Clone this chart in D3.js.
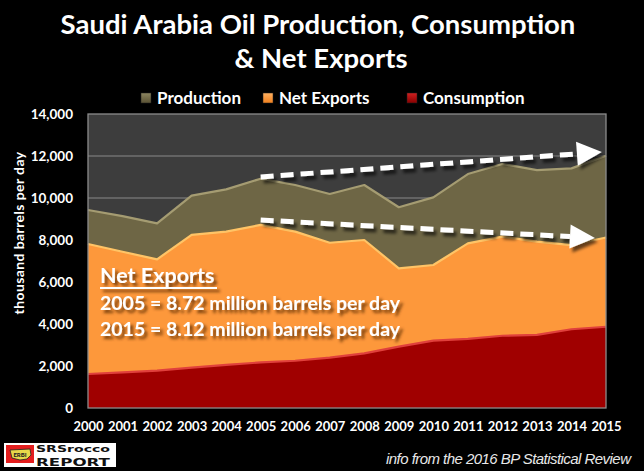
<!DOCTYPE html>
<html><head><meta charset="utf-8">
<script src="https://cdn.jsdelivr.net/npm/d3@7/dist/d3.min.js"></script>
<style>
html,body{margin:0;padding:0;background:#000;}
svg{display:block;}
</style></head>
<body>
<svg id="c" width="644" height="471"></svg>
<script>
// ---- data (thousand barrels per day) ----
const years = [2000,2001,2002,2003,2004,2005,2006,2007,2008,2009,2010,2011,2012,2013,2014,2015];
const production = [9430,9140,8790,10110,10410,10920,10620,10190,10620,9560,10030,11140,11620,11330,11410,12010];
const netExports = [7810,7440,7080,8240,8400,8720,8400,7870,8000,6650,6810,7840,8160,7920,7760,8120];
const consumption = [1620,1700,1780,1920,2050,2170,2250,2400,2600,2920,3210,3290,3440,3480,3750,3870];
const yTicks = [0,2000,4000,6000,8000,10000,12000,14000];
const legendItems = ["Production","Net Exports","Consumption"];
// trend arrows [year, value] start -> tip
const trendArrows = [
  [[2005, 11000],[2014.88, 12190]],
  [[2005, 8950],[2014.68, 8100]]
];

const svg = d3.select("#c");
const F = "Lato, 'Open Sans', sans-serif";
const L = 88, R = 606, T = 114, B = 408;

const x = d3.scaleLinear().domain([2000,2015]).range([L,R]);
const y = d3.scaleLinear().domain([0,14000]).range([B,T]);

const defs = svg.append("defs");
const sh = defs.append("filter").attr("id","tsh").attr("x","-10%").attr("y","-30%").attr("width","130%").attr("height","180%");
sh.append("feDropShadow").attr("dx",3).attr("dy",3).attr("stdDeviation",1.6).attr("flood-color","#5a2a05").attr("flood-opacity",0.85);
const ash = defs.append("filter").attr("id","ash").attr("x","-10%").attr("y","-50%").attr("width","130%").attr("height","250%");
ash.append("feDropShadow").attr("dx",3).attr("dy",4).attr("stdDeviation",1.8).attr("flood-color","#000").attr("flood-opacity",0.6);
const esh = defs.append("filter").attr("id","esh").attr("x","-5%").attr("y","-20%").attr("width","110%").attr("height","140%");
esh.append("feDropShadow").attr("dx",0).attr("dy",2).attr("stdDeviation",1.5).attr("flood-color","#000").attr("flood-opacity",0.45);

// legend gradients
const legCols = [["#8c8560","#5a5234"],["#ffb060","#f0801e"],["#d02020","#880000"]];
legCols.forEach((c,i)=>{
  const gr = defs.append("linearGradient").attr("id","lg"+i).attr("x1",0).attr("y1",0).attr("x2",0).attr("y2",1);
  gr.append("stop").attr("offset","0%").attr("stop-color",c[0]);
  gr.append("stop").attr("offset","100%").attr("stop-color",c[1]);
});

// title
svg.append("text").attr("x",318).attr("y",34).attr("text-anchor","middle")
  .attr("fill","#fff").attr("font-family",F).attr("font-weight",700).attr("font-size",27.5)
  .text("Saudi Arabia Oil Production, Consumption");
svg.append("text").attr("x",321).attr("y",68).attr("text-anchor","middle")
  .attr("fill","#fff").attr("font-family",F).attr("font-weight",700).attr("font-size",27.5)
  .text("& Net Exports");

// legend
const legX = [141,263,407];
legendItems.forEach((name,i)=>{
  const g = svg.append("g").attr("transform",`translate(${legX[i]},93)`);
  g.append("rect").attr("width",10).attr("height",10).attr("fill",`url(#lg${i})`).attr("stroke","#222").attr("stroke-width",0.5);
  g.append("text").attr("x",16).attr("y",10.5).attr("fill","#fff").attr("font-family",F)
    .attr("font-weight",700).attr("font-size",17).text(name);
});

// plot background
svg.append("rect").attr("x",L).attr("y",T).attr("width",R-L).attr("height",B-T).attr("fill","#3d3d3d");

// gridlines
svg.append("g").selectAll("line").data(yTicks.filter(d=>d>0 && d<14000)).join("line")
  .attr("x1",L).attr("x2",R).attr("y1",d=>y(d)).attr("y2",d=>y(d))
  .attr("stroke","#8a8a8a").attr("stroke-width",1);

// areas
const idx = d3.range(years.length);
function area(vals){ return d3.area().x(i=>x(years[i])).y0(B).y1(i=>y(vals[i]))(idx); }
function line(vals){ return d3.line().x(i=>x(years[i])).y(i=>y(vals[i]))(idx); }

const series = [
  {vals:production, fill:"#6e6644", edge:"#a59c72"},
  {vals:netExports, fill:"#fd983a", edge:"#ffc466"},
  {vals:consumption, fill:"#a00606", edge:"#e0403c"}
];
series.forEach(s=>{
  svg.append("path").attr("d",area(s.vals)).attr("fill",s.fill).attr("filter","url(#esh)");
  svg.append("path").attr("d",line(s.vals)).attr("fill","none").attr("stroke",s.edge).attr("stroke-width",2.2).attr("stroke-linejoin","round");
});

// plot border
svg.append("rect").attr("x",L).attr("y",T).attr("width",R-L).attr("height",B-T)
  .attr("fill","none").attr("stroke","#8c8c8c").attr("stroke-width",1.3);

// y axis
const yAxis = d3.axisLeft(y).tickValues(yTicks).tickFormat(d3.format(",")).tickSize(0).tickPadding(15);
const gy = svg.append("g").attr("transform",`translate(${L},0)`).call(yAxis);
gy.select(".domain").remove();
gy.selectAll("text").attr("fill","#fff").attr("font-family",F).attr("font-weight",700).attr("font-size",13.5);

svg.append("text").attr("transform","translate(24,233) rotate(-90)").attr("text-anchor","middle")
  .attr("fill","#fff").attr("font-family",F).attr("font-weight",700).attr("font-size",14)
  .attr("letter-spacing",0.4)
  .text("thousand barrels per day");

// x axis
const xAxis = d3.axisBottom(x).tickValues(years).tickFormat(d3.format("d")).tickSize(0).tickPadding(14);
const gx = svg.append("g").attr("transform",`translate(0,${B})`).call(xAxis);
gx.select(".domain").remove();
gx.selectAll("text").attr("fill","#fff").attr("font-family",F).attr("font-weight",700).attr("font-size",13);

// trend arrows
trendArrows.forEach(([a,b])=>{
  const x1=x(a[0]), y1=y(a[1]), x2=x(b[0]), y2=y(b[1]);
  const ang = Math.atan2(y2-y1,x2-x1);
  const headL = 25, headW = 12;
  const bx = x2 - headL*Math.cos(ang), by = y2 - headL*Math.sin(ang);
  const g = svg.append("g").attr("filter","url(#ash)");
  g.append("line").attr("x1",x1).attr("y1",y1).attr("x2",bx).attr("y2",by)
    .attr("stroke","#fff").attr("stroke-width",5).attr("stroke-dasharray","13,7");
  const px = -Math.sin(ang), py = Math.cos(ang);
  g.append("path").attr("d",`M${x2},${y2}L${bx+px*headW},${by+py*headW}L${bx-px*headW},${by-py*headW}Z`).attr("fill","#fff");
});

// annotation
const ann = svg.append("g").attr("filter","url(#tsh)").attr("fill","#fff").attr("font-family",F).attr("font-weight",700);
ann.append("text").attr("x",100).attr("y",283).attr("font-size",21.5).text("Net Exports");
ann.append("rect").attr("x",100).attr("y",287).attr("width",117).attr("height",2);
ann.append("text").attr("x",100).attr("y",310).attr("font-size",19.5).text("2005 = 8.72 million barrels per day");
ann.append("text").attr("x",100).attr("y",336).attr("font-size",19.5).text("2015 = 8.12 million barrels per day");

// logo
const lg = svg.append("g");
lg.append("rect").attr("x",4).attr("y",443).attr("width",112).attr("height",24).attr("fill","#fff");
lg.append("rect").attr("x",6).attr("y",445).attr("width",28).attr("height",18).attr("fill","#e41e1e");
lg.append("path").attr("d","M10,450 L30,449 L31,455 L27,459 L20,460 L12,458 Z").attr("fill","#e8d84a").attr("stroke","#222").attr("stroke-width",0.8);
lg.append("text").attr("x",20).attr("y",457).attr("text-anchor","middle").attr("font-family",F).attr("font-weight",900).attr("font-size",6).attr("fill","#222").text("ERBI");
lg.append("text").attr("x",36).attr("y",452).attr("font-family","'DejaVu Sans', sans-serif").attr("font-weight",700).attr("font-size",9.5).attr("fill","#111").attr("textLength",74).attr("lengthAdjust","spacingAndGlyphs").text("SRSrocco");
lg.append("text").attr("x",36).attr("y",466).attr("font-family","'DejaVu Sans', sans-serif").attr("font-weight",700).attr("font-size",11).attr("fill","#111").attr("textLength",74).attr("lengthAdjust","spacingAndGlyphs").text("REPORT");

// source
svg.append("text").attr("x",631).attr("y",464).attr("text-anchor","end")
  .attr("fill","#e8e8e8").attr("font-family","'Liberation Sans Narrow', 'Arial Narrow', sans-serif").attr("font-style","italic").attr("font-size",15)
  .attr("textLength",245)
  .text("info from the 2016 BP Statistical Review");
</script>
</body></html>
